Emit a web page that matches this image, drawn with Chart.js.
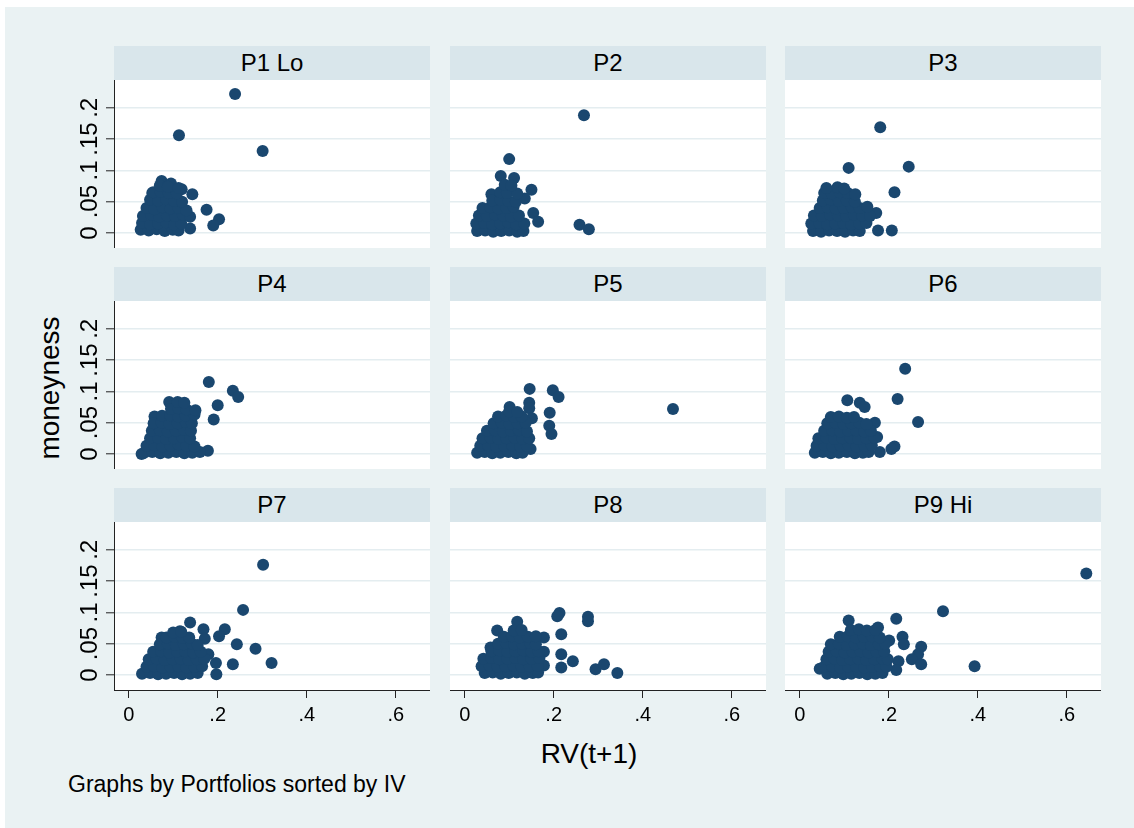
<!DOCTYPE html>
<html>
<head>
<meta charset="utf-8">
<script src="https://cdn.jsdelivr.net/npm/chart.js@4/dist/chart.umd.min.js"></script>
<style>
  html, body { margin: 0; padding: 0; background: #fff; }
  body { width: 1134px; height: 828px; position: relative; overflow: hidden;
         font-family: 'Liberation Sans', Arial, Helvetica, sans-serif; }
  #bg { position: absolute; left: 5px; top: 7px; right: 0; bottom: 0; background: #eaf2f3; }
  .hdr { position: absolute; background: #d9e6eb; color: #000; text-align: center;
         font-size: 24px; line-height: 34px; height: 34px; }
  canvas { position: absolute; }
  .txt { position: absolute; color: #000; white-space: nowrap; }
</style>
</head>
<body>
<div id="bg"></div>
<div class="txt" id="ytitle" style="left:-100px;top:373px;width:300px;text-align:center;font-size:28px;line-height:30px;transform:rotate(-90deg);">moneyness</div>
<div class="txt" id="xtitle" style="left:439px;top:739px;width:300px;text-align:center;font-size:28px;line-height:30px;">RV(t+1)</div>
<div class="txt" id="note" style="left:68px;top:772px;font-size:23px;line-height:25px;">Graphs by Portfolios sorted by IV</div>
<script>
// tick values / labels
var xTicks = [0, 0.2, 0.4, 0.6];
var xTickLabels = ['0', '.2', '.4', '.6'];
var yTicks = [0, 0.05, 0.1, 0.15, 0.2];
var yTickLabels = ['0', '.05', '.1', '.15', '.2'];
var panelTitles = ['P1 Lo', 'P2', 'P3', 'P4', 'P5', 'P6', 'P7', 'P8', 'P9 Hi'];

// RV(t+1), moneyness pairs
var p1 = [
[0.239,0.222],[0.113,0.156],[0.301,0.131],[0.175,0.037],[0.203,0.022],[0.190,0.012],
[0.143,0.062],[0.138,0.007],[0.119,0.070],[0.074,0.083],[0.095,0.079],[0.053,0.064],
[0.027,0.005],[0.045,0.004],[0.063,0.006],[0.081,0.003],[0.099,0.005],[0.112,0.004],
[0.030,0.016],[0.048,0.014],[0.066,0.015],[0.084,0.017],[0.102,0.013],[0.118,0.015],
[0.032,0.027],[0.050,0.029],[0.068,0.026],[0.086,0.028],[0.104,0.027],[0.122,0.029],[0.138,0.026],
[0.040,0.040],[0.058,0.038],[0.076,0.041],[0.094,0.039],[0.112,0.040],[0.130,0.036],
[0.048,0.053],[0.066,0.052],[0.084,0.054],[0.102,0.051],[0.120,0.050],
[0.055,0.065],[0.072,0.066],[0.090,0.064],[0.108,0.063],
[0.070,0.076],[0.088,0.074],[0.112,0.072]
];
var p2 = [
[0.268,0.188],[0.100,0.118],[0.081,0.091],[0.111,0.088],[0.150,0.069],[0.135,0.055],[0.060,0.062],
[0.154,0.032],[0.165,0.018],[0.258,0.013],[0.279,0.006],
[0.028,0.003],[0.046,0.004],[0.064,0.002],[0.082,0.003],[0.100,0.004],[0.118,0.002],[0.132,0.003],
[0.026,0.015],[0.044,0.016],[0.062,0.014],[0.080,0.015],[0.098,0.017],[0.116,0.014],[0.134,0.015],
[0.032,0.028],[0.050,0.027],[0.068,0.029],[0.086,0.028],[0.104,0.026],[0.122,0.028],
[0.040,0.040],[0.058,0.041],[0.076,0.039],[0.094,0.040],[0.110,0.042],
[0.062,0.052],[0.080,0.053],[0.098,0.051],[0.115,0.050],
[0.080,0.065],[0.095,0.064],[0.118,0.063],
[0.090,0.077],[0.105,0.076]
];
var p3 = [
[0.181,0.169],[0.110,0.104],[0.245,0.106],[0.213,0.065],[0.172,0.032],[0.176,0.004],[0.207,0.004],
[0.030,0.003],[0.048,0.002],[0.066,0.004],[0.084,0.003],[0.102,0.002],[0.120,0.004],[0.135,0.003],
[0.026,0.015],[0.044,0.016],[0.062,0.014],[0.080,0.015],[0.098,0.016],[0.116,0.014],[0.134,0.015],[0.150,0.016],
[0.032,0.028],[0.050,0.027],[0.068,0.029],[0.086,0.028],[0.104,0.027],[0.122,0.029],[0.140,0.028],[0.158,0.027],
[0.045,0.040],[0.063,0.041],[0.081,0.039],[0.099,0.040],[0.117,0.041],[0.135,0.040],[0.152,0.042],
[0.052,0.052],[0.070,0.053],[0.088,0.051],[0.106,0.052],[0.124,0.050],
[0.055,0.064],[0.072,0.063],[0.090,0.065],[0.108,0.064],[0.125,0.062],
[0.060,0.072],[0.085,0.073],[0.100,0.071]
];
var p4 = [
[0.180,0.115],[0.234,0.101],[0.246,0.091],[0.200,0.078],[0.191,0.055],[0.091,0.083],[0.058,0.060],[0.178,0.005],[0.029,0.000],
[0.035,0.002],[0.053,0.003],[0.071,0.001],[0.089,0.002],[0.107,0.003],[0.125,0.001],[0.143,0.002],[0.160,0.003],
[0.040,0.013],[0.058,0.014],[0.076,0.012],[0.094,0.013],[0.112,0.015],[0.130,0.013],[0.148,0.012],
[0.048,0.025],[0.066,0.026],[0.084,0.024],[0.102,0.025],[0.120,0.027],[0.138,0.025],
[0.052,0.037],[0.070,0.038],[0.088,0.036],[0.106,0.037],[0.124,0.039],[0.140,0.037],
[0.056,0.049],[0.074,0.050],[0.092,0.048],[0.110,0.049],[0.128,0.051],[0.142,0.049],
[0.075,0.061],[0.093,0.062],[0.111,0.060],[0.128,0.061],[0.148,0.063],
[0.095,0.072],[0.112,0.073],[0.130,0.071],[0.150,0.070],
[0.110,0.083],[0.125,0.082]
];
var p5 = [
[0.468,0.072],[0.146,0.104],[0.198,0.102],[0.211,0.091],[0.145,0.082],[0.145,0.073],[0.191,0.066],
[0.190,0.045],[0.195,0.032],[0.101,0.075],[0.151,0.057],[0.148,0.008],
[0.028,0.002],[0.045,0.003],[0.062,0.001],[0.080,0.002],[0.098,0.003],[0.116,0.001],[0.130,0.002],
[0.035,0.013],[0.053,0.014],[0.071,0.012],[0.089,0.013],[0.107,0.014],[0.125,0.012],[0.140,0.013],
[0.040,0.025],[0.058,0.026],[0.076,0.024],[0.094,0.025],[0.112,0.026],[0.130,0.024],[0.145,0.025],
[0.050,0.037],[0.068,0.038],[0.086,0.036],[0.104,0.037],[0.122,0.038],[0.140,0.036],
[0.065,0.049],[0.083,0.050],[0.101,0.048],[0.119,0.049],[0.137,0.050],
[0.075,0.060],[0.093,0.061],[0.111,0.059],[0.128,0.060],
[0.100,0.068],[0.118,0.067]
];
var p6 = [
[0.237,0.136],[0.220,0.088],[0.266,0.051],[0.107,0.086],[0.135,0.082],[0.146,0.075],[0.169,0.050],
[0.174,0.027],[0.180,0.003],[0.213,0.012],[0.206,0.008],
[0.034,0.002],[0.052,0.003],[0.070,0.001],[0.088,0.002],[0.106,0.003],[0.124,0.001],[0.142,0.002],[0.155,0.003],
[0.038,0.013],[0.056,0.014],[0.074,0.012],[0.092,0.013],[0.110,0.014],[0.128,0.012],[0.146,0.013],[0.162,0.014],
[0.042,0.025],[0.060,0.026],[0.078,0.024],[0.096,0.025],[0.114,0.026],[0.132,0.024],[0.150,0.025],[0.168,0.026],
[0.055,0.037],[0.073,0.038],[0.091,0.036],[0.109,0.037],[0.127,0.038],[0.145,0.036],[0.160,0.037],
[0.062,0.049],[0.080,0.050],[0.098,0.048],[0.116,0.049],[0.134,0.050],[0.150,0.048],
[0.070,0.059],[0.088,0.060],[0.106,0.058],[0.122,0.059]
];
var p7 = [
[0.302,0.176],[0.257,0.104],[0.216,0.073],[0.203,0.062],[0.243,0.049],[0.285,0.042],[0.321,0.019],
[0.234,0.017],[0.197,0.001],[0.196,0.019],[0.138,0.084],[0.168,0.073],[0.171,0.058],[0.074,0.060],
[0.115,0.070],[0.179,0.033],
[0.030,0.002],[0.048,0.003],[0.066,0.001],[0.084,0.002],[0.102,0.003],[0.120,0.001],[0.138,0.002],[0.155,0.003],
[0.040,0.013],[0.058,0.014],[0.076,0.012],[0.094,0.013],[0.112,0.014],[0.130,0.012],[0.148,0.013],[0.165,0.014],
[0.045,0.025],[0.063,0.026],[0.081,0.024],[0.099,0.025],[0.117,0.026],[0.135,0.024],[0.153,0.025],[0.170,0.026],
[0.055,0.037],[0.073,0.038],[0.091,0.036],[0.109,0.037],[0.127,0.038],[0.145,0.036],[0.162,0.037],
[0.070,0.049],[0.088,0.050],[0.106,0.048],[0.124,0.049],[0.142,0.050],[0.155,0.048],
[0.085,0.060],[0.103,0.061],[0.121,0.059],[0.136,0.060],
[0.100,0.068],[0.118,0.069]
];
var p8 = [
[0.213,0.099],[0.208,0.094],[0.277,0.093],[0.277,0.086],[0.217,0.065],[0.217,0.033],[0.243,0.022],
[0.217,0.012],[0.294,0.009],[0.313,0.017],[0.343,0.003],[0.178,0.060],[0.178,0.037],[0.178,0.015],
[0.118,0.085],[0.073,0.071],[0.058,0.044],
[0.045,0.003],[0.063,0.004],[0.081,0.002],[0.099,0.003],[0.117,0.004],[0.135,0.002],[0.153,0.003],[0.165,0.004],
[0.038,0.014],[0.056,0.015],[0.074,0.013],[0.092,0.014],[0.110,0.015],[0.128,0.013],[0.146,0.014],[0.164,0.015],
[0.042,0.026],[0.060,0.027],[0.078,0.025],[0.096,0.026],[0.114,0.027],[0.132,0.025],[0.150,0.026],[0.168,0.027],
[0.060,0.038],[0.078,0.039],[0.096,0.037],[0.114,0.038],[0.132,0.039],[0.150,0.037],[0.166,0.038],
[0.075,0.050],[0.093,0.051],[0.111,0.049],[0.129,0.050],[0.147,0.051],[0.160,0.049],
[0.088,0.061],[0.106,0.062],[0.124,0.060],[0.142,0.061],[0.160,0.062],
[0.110,0.071],[0.128,0.072]
];
var p9 = [
[0.644,0.162],[0.322,0.102],[0.393,0.014],[0.217,0.090],[0.110,0.087],[0.231,0.061],[0.234,0.049],
[0.273,0.045],[0.266,0.033],[0.252,0.025],[0.273,0.017],[0.222,0.022],[0.217,0.008],[0.176,0.076],
[0.201,0.055],[0.045,0.010],
[0.062,0.002],[0.080,0.003],[0.098,0.001],[0.116,0.002],[0.134,0.003],[0.152,0.001],[0.170,0.002],[0.186,0.003],
[0.055,0.013],[0.073,0.014],[0.091,0.012],[0.109,0.013],[0.127,0.014],[0.145,0.012],[0.163,0.013],[0.181,0.014],[0.195,0.013],
[0.060,0.025],[0.078,0.026],[0.096,0.024],[0.114,0.025],[0.132,0.026],[0.150,0.024],[0.168,0.025],[0.186,0.026],[0.198,0.025],
[0.065,0.037],[0.083,0.038],[0.101,0.036],[0.119,0.037],[0.137,0.038],[0.155,0.036],[0.173,0.037],[0.190,0.038],
[0.070,0.049],[0.088,0.050],[0.106,0.048],[0.124,0.049],[0.142,0.050],[0.160,0.048],[0.178,0.049],[0.192,0.050],
[0.090,0.061],[0.108,0.062],[0.126,0.060],[0.144,0.061],[0.162,0.062],[0.180,0.060],
[0.115,0.072],[0.133,0.073],[0.151,0.071],[0.170,0.072]
];
var panelData = [p1, p2, p3, p4, p5, p6, p7, p8, p9];

var xMin = -0.033, xMax = 0.677;
var yMin = -0.024, yMax = 0.2444;

// layout of the 3x3 grid
var colLeft = [114, 450, 785];
var hdrTop = [46, 267, 488];
var hdrH = 34, plotW = 316, plotH = 168;
var fontFam = "'Liberation Sans', Arial, Helvetica, sans-serif";
var navy = '#1a476f';

var whiteArea = {
  id: 'whiteArea',
  beforeDraw: function(chart) {
    var a = chart.chartArea, ctx = chart.ctx;
    ctx.save();
    ctx.fillStyle = '#ffffff';
    ctx.fillRect(a.left, a.top, a.right - a.left, a.bottom - a.top);
    ctx.restore();
  }
};

// stata style vertical y labels
var rotatedY = {
  id: 'rotatedY',
  afterDraw: function(chart) {
    if (!chart.options.plugins.rotatedY.show) return;
    var ys = chart.scales.y, ctx = chart.ctx;
    ctx.save();
    ctx.fillStyle = '#000';
    ctx.font = '24px ' + fontFam;
    ctx.textAlign = 'center';
    ctx.textBaseline = 'alphabetic';
    for (var i = 0; i < yTicks.length; i++) {
      ctx.save();
      ctx.translate(chart.chartArea.left - 17, ys.getPixelForValue(yTicks[i]));
      ctx.rotate(-Math.PI / 2);
      ctx.fillText(yTickLabels[i], 0, 0);
      ctx.restore();
    }
    ctx.restore();
  }
};

for (var i = 0; i < 9; i++) {
  var c = i % 3, r = Math.floor(i / 3);
  var left = c === 0, bottom = r === 2;
  var padL = left ? 110 : 0, padB = bottom ? 45 : 0;
  var plotTop = hdrTop[r] + hdrH;

  var hdr = document.createElement('div');
  hdr.className = 'hdr';
  hdr.style.left = colLeft[c] + 'px';
  hdr.style.top = hdrTop[r] + 'px';
  hdr.style.width = plotW + 'px';
  hdr.textContent = panelTitles[i];
  document.body.appendChild(hdr);

  var cv = document.createElement('canvas');
  cv.width = plotW + padL;
  cv.height = plotH + padB;
  cv.style.left = (colLeft[c] - padL) + 'px';
  cv.style.top = plotTop + 'px';
  document.body.appendChild(cv);

  (function(cv, i, left, bottom, padL, padB) {
    new Chart(cv, {
      type: 'scatter',
      data: {
        datasets: [{
          data: panelData[i].map(function(p) { return {x: p[0], y: p[1]}; }),
          backgroundColor: navy,
          pointRadius: 6,
          pointHoverRadius: 6,
          pointBorderWidth: 0
        }]
      },
      options: {
        responsive: false,
        animation: false,
        devicePixelRatio: 1,
        layout: { padding: 0, autoPadding: false },
        plugins: { legend: { display: false }, tooltip: { enabled: false }, rotatedY: { show: left } },
        scales: {
          x: {
            type: 'linear', min: xMin, max: xMax,
            afterBuildTicks: function(s) { s.ticks = xTicks.map(function(v) { return {value: v}; }); },
            afterFit: function(s) { s.height = padB; },
            grid: { display: bottom, drawOnChartArea: false, drawTicks: bottom, tickLength: 8, tickColor: '#222', tickWidth: 1 },
            border: { display: bottom, color: '#222', width: 1 },
            ticks: {
              display: bottom, color: '#000', padding: 5, maxRotation: 0, minRotation: 0,
              font: { size: 20, family: fontFam },
              callback: function(v, idx) { return xTickLabels[idx]; }
            }
          },
          y: {
            type: 'linear', min: yMin, max: yMax,
            afterBuildTicks: function(s) { s.ticks = yTicks.map(function(v) { return {value: v}; }); },
            afterFit: function(s) { s.width = padL; },
            grid: { display: true, color: '#e4edf0', lineWidth: 1.6, drawTicks: left, tickLength: 8, tickColor: '#222', tickWidth: 1 },
            border: { display: left, color: '#222', width: 1 },
            ticks: { display: false }
          }
        }
      },
      plugins: [whiteArea, rotatedY]
    });
  })(cv, i, left, bottom, padL, padB);
}
</script>
</body>
</html>
